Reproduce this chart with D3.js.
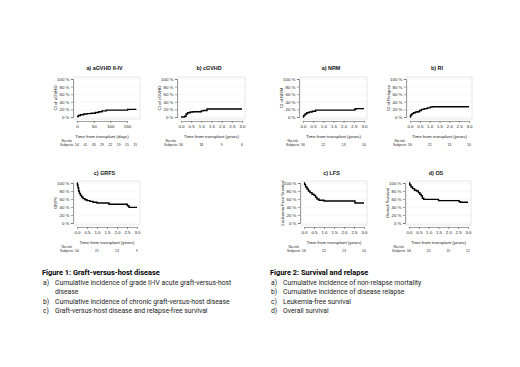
<!DOCTYPE html>
<html>
<head>
<meta charset="utf-8">
<script src="https://cdn.jsdelivr.net/npm/d3@7"></script>
<style>
  body { margin: 0; background: #fff; }
</style>
</head>
<body>
<div id="chart-area"></div>
<script>
// Step-curve data (percent)
const aGvhdTime = [0, 4, 10, 20, 30, 42, 55, 65, 75, 88, 152, 178];
const aGvhdCI = [1, 4, 6, 8, 9, 10, 12, 14, 16, 18, 20, 20];

const cGvhdTime = [0, 0.18, 0.25, 0.32, 0.45, 0.6, 1.0, 1.1, 1.28, 3.0];
const cGvhdCI = [0, 2, 8, 11, 13, 14, 16, 17, 21, 21];

const grfsTime = [0, 0.02, 0.05, 0.08, 0.12, 0.17, 0.23, 0.3, 0.4, 0.5, 0.65, 0.8, 1.0, 1.6, 2.52, 2.6, 3.0];
const grfsSurv = [100, 95, 88, 80, 74, 69, 65, 61, 58, 56, 54, 52, 50, 47, 43, 39, 39];

const nrmTime = [0, 0.02, 0.05, 0.1, 0.18, 0.3, 0.45, 0.62, 2.55, 2.62, 3.0];
const nrmCI = [0, 2, 5, 8, 11, 13, 15, 18, 21, 22, 22];

const riTime = [0, 0.02, 0.05, 0.1, 0.18, 0.28, 0.38, 0.48, 0.58, 0.72, 0.88, 1.02, 1.12, 3.0];
const riCI = [0, 3, 6, 9, 11, 13, 14, 17, 20, 22, 24, 26, 27, 27];

const lfsTime = [0, 0.03, 0.08, 0.15, 0.22, 0.3, 0.4, 0.5, 0.58, 0.65, 0.75, 1.0, 2.55, 3.0];
const lfsSurv = [100, 96, 90, 85, 80, 76, 72, 69, 64, 60, 57, 55, 50, 50];

const osTime = [0, 0.04, 0.1, 0.18, 0.28, 0.38, 0.48, 0.55, 0.62, 0.68, 0.75, 1.5, 2.55, 2.62, 3.0];
const osSurv = [100, 95, 90, 86, 82, 80, 76, 72, 68, 62, 59, 56, 53, 52, 52];

// Ticks and numbers at risk
const yTicks = [0, 20, 40, 60, 80, 100];
const dayTicks = [0, 50, 100, 150];
const yearTicks = [0, 0.5, 1, 1.5, 2, 2.5, 3];
const aGvhdRiskAt = [0, 25, 50, 75, 100, 125, 150, 175];
const aGvhdRisk = [54, 41, 33, 29, 22, 19, 15, 15];
const yearRiskAt = [0, 1, 2, 3];
const cGvhdRisk = [56, 18, 9, 6];
const grfsRisk = [56, 21, 13, 9];
const nrmRisk = [56, 22, 13, 10];
const riRisk = [56, 22, 13, 10];
const lfsRisk = [56, 22, 13, 10];
const osRisk = [56, 25, 15, 12];

const fig1Title = 'Figure 1: Graft-versus-host disease';
const fig1Items = [
  ['a)', 'Cumulative incidence of grade II-IV acute graft-versus-host'],
  ['', 'disease'],
  ['b)', 'Cumulative incidence of chronic graft-versus-host disease'],
  ['c)', 'Graft-versus-host disease and relapse-free survival']
];
const fig2Title = 'Figure 2: Survival and relapse';
const fig2Items = [
  ['a)', 'Cumulative incidence of non-relapse mortality'],
  ['b)', 'Cumulative incidence of disease relapse'],
  ['c)', 'Leukemia-free survival'],
  ['d)', 'Overall survival']
];

const FONT = 'Liberation Sans, Arial, sans-serif';
const W = 520, H = 367;
const svg = d3.select('#chart-area').append('svg')
  .attr('width', W).attr('height', H)
  .attr('font-family', FONT);

// Panel layout: x0/x1 pixel range of the tick domain, rows give y
const row1 = { title: 68, top: 79, bottom: 117, tick: 127, axTitle: 136, nr: 141, subj: 145 };
const row2 = { title: 173, top: 183, bottom: 223, tick: 232, axTitle: 242, nr: 247, subj: 251 };

const panels = [
  { title: 'a) aGVHD II-IV', ylab: 'CI of aGVHD', time: aGvhdTime, val: aGvhdCI, dom: [0, 150], x0: 77, x1: 127, xEnd: 180,
    ticks: dayTicks, fmt: d3.format('d'), xlab: 'Time from transplant (days)', riskAt: aGvhdRiskAt, risk: aGvhdRisk, row: row1 },
  { title: 'b) cGVHD', ylab: 'CI of cGVHD', time: cGvhdTime, val: cGvhdCI, dom: [0, 3], x0: 181, x1: 242, xEnd: 3,
    ticks: yearTicks, fmt: d3.format('.1f'), xlab: 'Time from transplant (years)', riskAt: yearRiskAt, risk: cGvhdRisk, row: row1 },
  { title: 'c) GRFS', ylab: 'GRFS', time: grfsTime, val: grfsSurv, dom: [0, 3], x0: 77, x1: 137, xEnd: 3,
    ticks: yearTicks, fmt: d3.format('.1f'), xlab: 'Time from transplant (years)', riskAt: yearRiskAt, risk: grfsRisk, row: row2 },
  { title: 'a) NRM', ylab: 'CI of NRM', time: nrmTime, val: nrmCI, dom: [0, 3], x0: 303, x1: 364, xEnd: 3,
    ticks: yearTicks, fmt: d3.format('.1f'), xlab: 'Time from transplant (years)', riskAt: yearRiskAt, risk: nrmRisk, row: row1 },
  { title: 'b) RI', ylab: 'CI of Relapse', time: riTime, val: riCI, dom: [0, 3], x0: 410, x1: 469, xEnd: 3,
    ticks: yearTicks, fmt: d3.format('.1f'), xlab: 'Time from transplant (years)', riskAt: yearRiskAt, risk: riRisk, row: row1 },
  { title: 'c) LFS', ylab: 'Leukemia Free Survival', time: lfsTime, val: lfsSurv, dom: [0, 3], x0: 304, x1: 364, xEnd: 3,
    ticks: yearTicks, fmt: d3.format('.1f'), xlab: 'Time from transplant (years)', riskAt: yearRiskAt, risk: lfsRisk, row: row2 },
  { title: 'd) OS', ylab: 'Overall Survival', time: osTime, val: osSurv, dom: [0, 3], x0: 409, x1: 468, xEnd: 3,
    ticks: yearTicks, fmt: d3.format('.1f'), xlab: 'Time from transplant (years)', riskAt: yearRiskAt, risk: osRisk, row: row2 }
];

panels.forEach((p) => {
  const r = p.row;
  const x = d3.scaleLinear().domain(p.dom).range([p.x0, p.x1]);
  const y = d3.scaleLinear().domain([0, 100]).range([r.bottom, r.top]);
  const g = svg.append('g');

  const left = p.x0 - 3, right = x(p.xEnd) + 3;

  // Grid and box
  g.selectAll('line.grid').data(yTicks).enter().append('line')
    .attr('x1', left).attr('x2', right)
    .attr('y1', (d) => y(d)).attr('y2', (d) => y(d))
    .attr('stroke', '#efefef').attr('stroke-width', 0.5);
  g.append('rect')
    .attr('x', left).attr('y', r.top - 2)
    .attr('width', right - left).attr('height', r.bottom - r.top + 4)
    .attr('fill', 'none').attr('stroke', '#cfcfcf').attr('stroke-width', 0.5);

  // Y axis
  const yAxis = g.append('g')
    .attr('transform', 'translate(' + (p.x0 - 4) + ',0)')
    .call(d3.axisLeft(y).tickValues(yTicks).tickSize(2).tickPadding(1.5).tickFormat((d) => d + ' %'));
  yAxis.attr('font-family', FONT);
  yAxis.selectAll('text').attr('font-size', 4.4).attr('fill', '#222');
  yAxis.selectAll('line, path').attr('stroke', '#444').attr('stroke-width', 0.5);

  // X axis
  const xAxis = g.append('g')
    .attr('transform', 'translate(0,' + (r.bottom + 4) + ')')
    .call(d3.axisBottom(x).tickValues(p.ticks).tickSize(2).tickSizeOuter(0).tickPadding(2).tickFormat(p.fmt));
  xAxis.attr('font-family', FONT);
  xAxis.selectAll('text').attr('font-size', 4.4).attr('fill', '#222');
  xAxis.selectAll('line, path').attr('stroke', '#444').attr('stroke-width', 0.5);

  // Curve
  const pts = p.time.map((t, i) => [t, p.val[i]]);
  g.append('path')
    .datum(pts)
    .attr('fill', 'none').attr('stroke', '#000').attr('stroke-width', 1.4)
    .attr('d', d3.line().x((d) => x(d[0])).y((d) => y(d[1])).curve(d3.curveStepAfter));

  // Titles
  g.append('text')
    .attr('x', (p.x0 + right) / 2 - 4).attr('y', r.title + 2)
    .attr('text-anchor', 'middle').attr('font-size', 5.4).attr('font-weight', 'bold').attr('fill', '#111')
    .text(p.title);
  g.append('text')
    .attr('transform', 'translate(' + (p.x0 - 20) + ',' + ((r.top + r.bottom) / 2) + ') rotate(-90)')
    .attr('text-anchor', 'middle').attr('font-size', 4.3).attr('fill', '#222')
    .text(p.ylab);
  g.append('text')
    .attr('x', (p.x0 + p.x1) / 2).attr('y', r.axTitle + 1.5)
    .attr('text-anchor', 'middle').attr('font-size', 4.4).attr('fill', '#222')
    .text(p.xlab);

  // Numbers at risk
  g.append('text')
    .attr('x', p.x0 - 5).attr('y', r.nr + 1.3)
    .attr('text-anchor', 'end').attr('font-size', 3.4).attr('fill', '#222')
    .text('No.risk');
  g.append('text')
    .attr('x', p.x0 - 3).attr('y', r.subj + 1.3)
    .attr('text-anchor', 'end').attr('font-size', 3.4).attr('fill', '#222')
    .text('Subjects:');
  g.selectAll('text.risk').data(p.riskAt).enter().append('text')
    .attr('x', (d) => x(d)).attr('y', r.subj + 1.3)
    .attr('text-anchor', 'middle').attr('font-size', 3.4).attr('fill', '#222')
    .text((d, i) => p.risk[i]);
});

// Captions
const captions = [
  { x: 42, title: fig1Title, items: fig1Items },
  { x: 270, title: fig2Title, items: fig2Items }
];
captions.forEach((c) => {
  const g = svg.append('g').attr('font-family', 'Roboto, sans-serif');
  g.append('text')
    .attr('x', c.x).attr('y', 275)
    .attr('font-size', 7.4).attr('font-weight', 'bold').attr('fill', '#000')
    .text(c.title);
  c.items.forEach((it, i) => {
    const yy = 284.5 + i * 9.6;
    g.append('text').attr('x', c.x + 1).attr('y', yy)
      .attr('font-size', 6.8).attr('fill', '#1a1a1a')
      .text(it[0]);
    g.append('text').attr('x', c.x + 13).attr('y', yy)
      .attr('font-size', 6.8).attr('fill', '#1a1a1a')
      .text(it[1]);
  });
});
</script>
</body>
</html>
